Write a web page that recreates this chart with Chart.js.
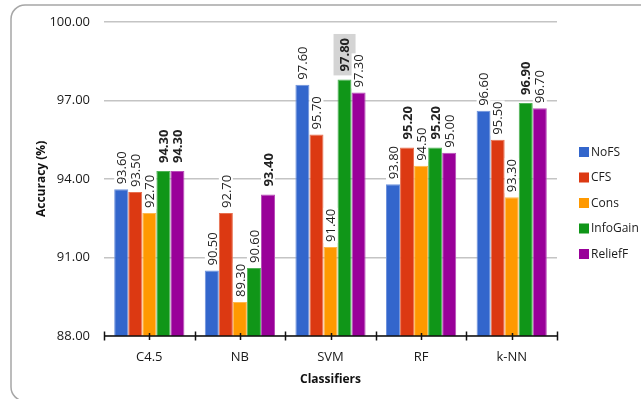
<!DOCTYPE html>
<html>
<head>
<meta charset="utf-8">
<script src="https://cdn.jsdelivr.net/npm/chart.js@4.4.1/dist/chart.umd.min.js"></script>
<style>
  html, body { margin: 0; padding: 0; background: #ffffff; }
  #wrap { width: 641px; height: 399px; position: relative; }
</style>
</head>
<body>
<div id="wrap"><canvas id="c" width="641" height="399"></canvas></div>
<script>
// Accuracy of each classifier under each feature-selection method
const classifiers = ['C4.5', 'NB', 'SVM', 'RF', 'k-NN'];
const noFS     = [93.60, 90.50, 97.60, 93.80, 96.60];
const cfs      = [93.50, 92.70, 95.70, 95.20, 95.50];
const cons     = [92.70, 89.30, 91.40, 94.50, 93.30];
const infoGain = [94.30, 90.60, 97.80, 95.20, 96.90];
const reliefF  = [94.30, 93.40, 97.30, 95.00, 96.70];
const seriesNames = ['NoFS', 'CFS', 'Cons', 'InfoGain', 'ReliefF'];
const yTicks = [88, 91, 94, 97, 100];

const seriesValues = [noFS, cfs, cons, infoGain, reliefF];
const seriesColors = ['#3366cc', '#dc3912', '#ff9900', '#109618', '#990099'];
const seriesEdges  = ['#6f93dc', '#e8704f', '#ffb84d', '#4fb357', '#b84db8'];

const FONT = "'Open Sans', 'DejaVu Sans', sans-serif";
Chart.defaults.font.family = FONT;
Chart.defaults.font.size = 13;
Chart.defaults.color = '#1a1a1a';

// Rounded outer frame, partly running off the right and bottom edges
const framePlugin = {
  id: 'frame',
  beforeDraw(chart) {
    const ctx = chart.ctx;
    ctx.save();
    ctx.strokeStyle = '#a6a6a6';
    ctx.lineWidth = 1.5;
    const x = 11, y = 5, w = 700, h = 396, r = 14;
    ctx.beginPath();
    ctx.moveTo(x + r, y);
    ctx.lineTo(x + w, y);
    ctx.moveTo(x, y + r);
    ctx.lineTo(x, y + h - r);
    ctx.arcTo(x, y + h, x + r, y + h, r);
    ctx.lineTo(x + w, y + h);
    ctx.moveTo(x, y + r);
    ctx.arcTo(x, y, x + r, y, r);
    ctx.stroke();
    ctx.restore();
  }
};

// Category axis line with boundary and centre tick marks
const axisPlugin = {
  id: 'axisLine',
  afterDraw(chart) {
    const ctx = chart.ctx;
    const xs = chart.scales.x;
    const y = chart.chartArea.bottom;
    const n = classifiers.length;
    const step = (xs.right - xs.left) / n;
    ctx.save();
    ctx.strokeStyle = '#111111';
    ctx.lineWidth = 1.5;
    ctx.beginPath();
    ctx.moveTo(xs.left, y);
    ctx.lineTo(xs.right, y);
    for (let i = 0; i <= n; i++) {
      const bx = Math.round(xs.left + i * step) + 0.5;
      ctx.moveTo(bx, y - 4.5);
      ctx.lineTo(bx, y + 4.5);
    }
    for (let i = 0; i < n; i++) {
      const cx = Math.round(xs.getPixelForValue(i)) + 0.5;
      ctx.moveTo(cx, y - 3);
      ctx.lineTo(cx, y + 4);
    }
    ctx.stroke();
    ctx.restore();
  }
};

// Rotated value labels above each bar; best value per classifier in bold,
// overall best value on a grey patch
const labelPlugin = {
  id: 'valueLabels',
  afterDatasetsDraw(chart) {
    const ctx = chart.ctx;
    const groupMax = classifiers.map((_, i) => Math.max(...seriesValues.map(s => s[i])));
    const overallMax = Math.max(...groupMax);
    ctx.save();
    chart.data.datasets.forEach((ds, di) => {
      const meta = chart.getDatasetMeta(di);
      meta.data.forEach((bar, i) => {
        const v = ds.data[i];
        const bold = v === groupMax[i];
        const top = v === overallMax;
        const txt = v.toFixed(2);
        ctx.font = (bold ? 'bold ' : '') + '13px ' + FONT;
        const tw = ctx.measureText(txt).width;
        const gap = bold ? 8 : 5;
        ctx.save();
        ctx.translate(bar.x, bar.y - gap);
        ctx.rotate(-Math.PI / 2);
        if (top) {
          ctx.fillStyle = '#d4d4d4';
          ctx.fillRect(-4, -11, tw + 8, 22);
        } else {
          ctx.fillStyle = '#ffffff';
          ctx.fillRect(-1, -7, tw + 2, 14);
        }
        ctx.fillStyle = '#222222';
        ctx.textAlign = 'left';
        ctx.textBaseline = 'middle';
        ctx.fillText(txt, 0, 1);
        ctx.restore();
      });
    });
    ctx.restore();
  }
};

// Legend on the right
const legendPlugin = {
  id: 'sideLegend',
  afterDraw(chart) {
    const ctx = chart.ctx;
    ctx.save();
    ctx.font = '12px ' + FONT;
    ctx.textBaseline = 'middle';
    ctx.textAlign = 'left';
    chart.data.datasets.forEach((ds, i) => {
      const cy = 152 + i * 25.5;
      ctx.fillStyle = ds.backgroundColor;
      ctx.fillRect(579, cy - 5, 10, 10);
      ctx.fillStyle = '#1a1a1a';
      ctx.fillText(ds.label, 591, cy + 0.5);
    });
    ctx.restore();
  }
};

new Chart(document.getElementById('c'), {
  type: 'bar',
  data: {
    labels: classifiers,
    datasets: seriesNames.map((name, i) => ({
      label: name,
      data: seriesValues[i],
      backgroundColor: seriesColors[i],
      borderColor: seriesEdges[i],
      borderWidth: { top: 1, left: 1, right: 1, bottom: 0 },
      categoryPercentage: 0.775,
      barPercentage: 1.0
    }))
  },
  options: {
    responsive: false,
    animation: false,
    devicePixelRatio: 1,
    layout: { padding: { left: 0, right: 84, top: 20, bottom: 0 } },
    plugins: {
      legend: { display: false },
      tooltip: { enabled: false }
    },
    scales: {
      x: {
        grid: { display: false },
        border: { display: false },
        ticks: { padding: 5, color: '#1a1a1a', font: { size: 13 } },
        title: {
          display: true,
          text: 'Classifiers',
          font: { size: 12, weight: 'bold' },
          color: '#111111',
          padding: { top: 0, bottom: 12 }
        },
        afterFit(s) { s.height = 63; }
      },
      y: {
        min: 88,
        max: 100,
        afterBuildTicks(s) { s.ticks = yTicks.map(v => ({ value: v })); },
        grid: { color: '#c4c4c4', lineWidth: 1.5, drawTicks: false },
        border: { display: false },
        ticks: {
          padding: 14,
          color: '#1a1a1a',
          font: { size: 13 },
          callback: v => Number(v).toFixed(2)
        },
        title: {
          display: true,
          text: 'Accuracy (%)',
          font: { size: 12, weight: 'bold' },
          color: '#111111',
          padding: { top: 34, bottom: 0 }
        },
        afterFit(s) { s.width = 104; }
      }
    }
  },
  plugins: [framePlugin, labelPlugin, axisPlugin, legendPlugin]
});
</script>
</body>
</html>
